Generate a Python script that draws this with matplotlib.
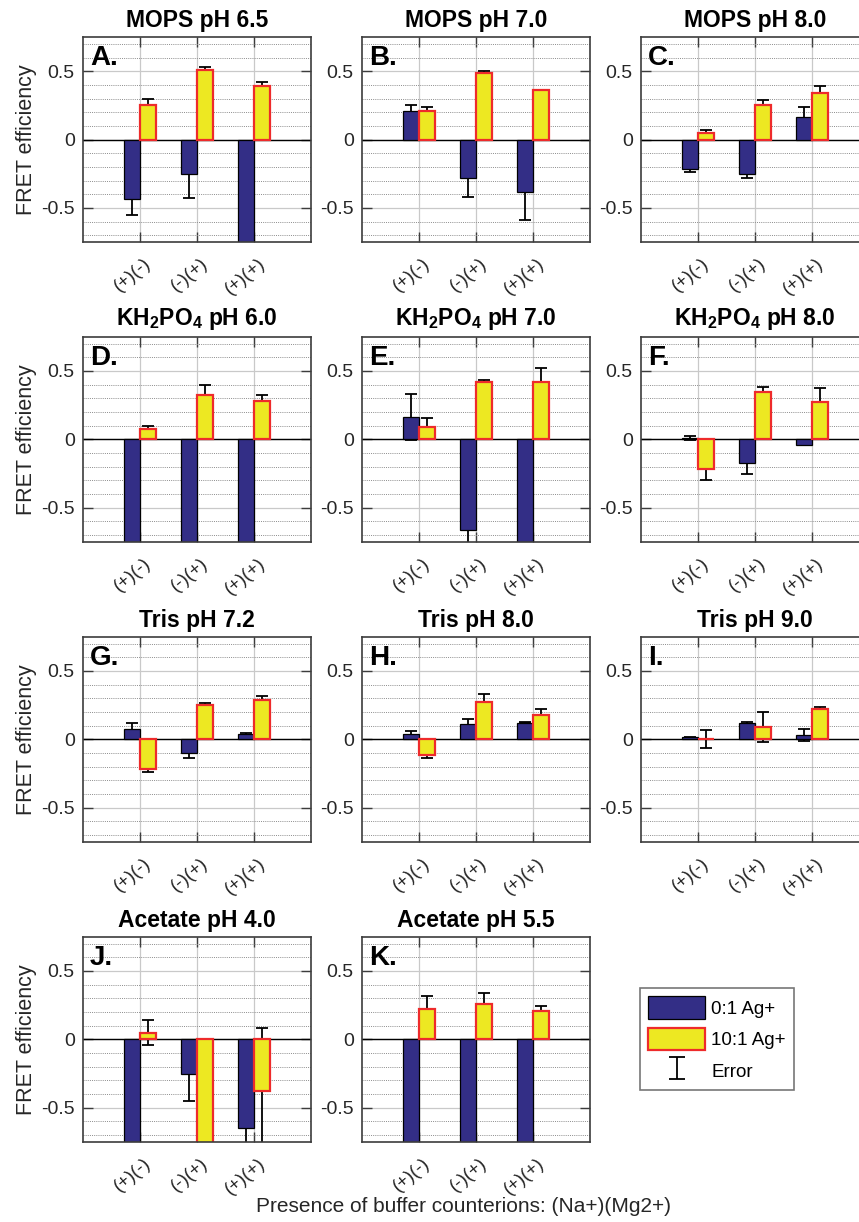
import matplotlib
matplotlib.use('Agg')
import matplotlib.pyplot as plt
import matplotlib.transforms as mtransforms
from matplotlib.patches import Patch
from matplotlib.lines import Line2D
from matplotlib.path import Path
import numpy as np

plt.rcParams['font.family'] = ['Liberation Sans', 'DejaVu Sans']
plt.rcParams['mathtext.fontset'] = 'custom'
plt.rcParams['mathtext.rm'] = 'Liberation Sans'
plt.rcParams['mathtext.bf'] = 'Liberation Sans:bold'
plt.rcParams['mathtext.it'] = 'Liberation Sans:italic'

# ---------------- data ----------------
categories = ['(+)(-)', '(-)(+)', '(+)(+)']
ytick_vals = [-0.5, 0.0, 0.5]
ytick_labels = ['-0.5', '0', '0.5']

titles = ['MOPS pH 6.5', 'MOPS pH 7.0', 'MOPS pH 8.0',
          r'KH$_\mathbf{2}$PO$_\mathbf{4}$ pH 6.0',
          r'KH$_\mathbf{2}$PO$_\mathbf{4}$ pH 7.0',
          r'KH$_\mathbf{2}$PO$_\mathbf{4}$ pH 8.0',
          'Tris pH 7.2', 'Tris pH 8.0', 'Tris pH 9.0',
          'Acetate pH 4.0', 'Acetate pH 5.5']
letters = ['A.', 'B.', 'C.', 'D.', 'E.', 'F.', 'G.', 'H.', 'I.', 'J.', 'K.']

# 0:1 Ag+ (blue) values and errors, per panel
ag0_vals = [
    [-0.433, -0.250, -1.000],
    [0.212, -0.280, -0.385],
    [-0.214, -0.255, 0.163],
    [-1.000, -1.000, -1.000],
    [0.165, -0.667, -1.000],
    [0.010, -0.175, -0.041],
    [0.075, -0.102, 0.039],
    [0.039, 0.112, 0.122],
    [0.015, 0.117, 0.032],
    [-1.000, -0.255, -0.650],
    [-1.000, -1.000, -1.000],
]
ag0_errs = [
    [0.122, 0.180, 0.0],
    [0.041, 0.140, 0.205],
    [0.025, 0.027, 0.073],
    [0.0, 0.0, 0.0],
    [0.168, 0.150, 0.0],
    [0.014, 0.083, 0.004],
    [0.042, 0.039, 0.005],
    [0.019, 0.036, 0.007],
    [0.003, 0.007, 0.043],
    [0.0, 0.198, 0.200],
    [0.0, 0.0, 0.0],
]
# 10:1 Ag+ (yellow) values and errors, per panel
ag10_vals = [
    [0.253, 0.508, 0.390],
    [0.207, 0.490, 0.365],
    [0.049, 0.253, 0.343],
    [0.071, 0.324, 0.277],
    [0.092, 0.421, 0.421],
    [-0.221, 0.345, 0.275],
    [-0.221, 0.248, 0.285],
    [-0.119, 0.275, 0.175],
    [0.000, 0.088, 0.221],
    [0.049, -1.000, -0.382],
    [0.219, 0.260, 0.207],
]
ag10_errs = [
    [0.047, 0.019, 0.030],
    [0.031, 0.013, 0.0],
    [0.017, 0.039, 0.049],
    [0.024, 0.073, 0.044],
    [0.066, 0.012, 0.102],
    [0.076, 0.039, 0.100],
    [0.022, 0.015, 0.029],
    [0.020, 0.056, 0.044],
    [0.065, 0.109, 0.012],
    [0.090, 0.0, 0.467],
    [0.095, 0.080, 0.034],
]
series_labels = ['0:1 Ag+', '10:1 Ag+', 'Error']
xlabel_text = 'Presence of buffer counterions: (Na+)(Mg2+)'

# ---------------- style ----------------
BLUE = '#332e86'
YELLOW = '#ede822'
RED = '#ee2b2b'
SPINE = '#3c3c3c'
TXT = '#262626'

W, H = 859, 1222
fig = plt.figure(figsize=(W / 100, H / 100), dpi=100)

col_left = [83, 362, 641]
row_top = [37, 336.7, 636.7, 936.7]
ax_w, ax_h = 228, 205
bw = 0.28

label_shift = mtransforms.ScaledTranslation(9 / 100, 0, fig.dpi_scale_trans)

for i in range(11):
    r, c = divmod(i, 3)
    left = col_left[c] / W
    bottom = 1 - (row_top[r] + ax_h) / H
    ax = fig.add_axes([left, bottom, ax_w / W, ax_h / H])
    x = np.arange(1, len(categories) + 1)

    ax.axhline(0, color='black', lw=1.0, zorder=1.2)
    ax.errorbar(x - bw / 2, ag0_vals[i], yerr=ag0_errs[i], fmt='none',
                ecolor='black', elinewidth=1.3, capsize=4.3, capthick=1.3, zorder=1.5)
    ax.errorbar(x + bw / 2, ag10_vals[i], yerr=ag10_errs[i], fmt='none',
                ecolor='black', elinewidth=1.3, capsize=4.3, capthick=1.3, zorder=1.5)
    ax.bar(x - bw / 2, ag0_vals[i], width=bw, color=BLUE, edgecolor='black',
           linewidth=0.9, zorder=2)
    ax.bar(x + bw / 2, ag10_vals[i], width=bw, color=YELLOW, edgecolor=RED,
           linewidth=1.6, zorder=2.1)

    ax.set_xlim(0, 4)
    ax.set_ylim(-0.75, 0.75)
    ax.set_axisbelow(True)
    ax.set_xticks(x)
    ax.set_xticklabels(categories, rotation=40, ha='right', va='center',
                       rotation_mode='anchor', fontsize=13.5, color=TXT)
    ax.set_yticks(ytick_vals)
    ax.set_yticklabels(ytick_labels, fontsize=14, color=TXT)
    ax.set_yticks([-0.7, -0.6, -0.4, -0.3, -0.2, -0.1, 0.1, 0.2, 0.3, 0.4, 0.6, 0.7],
                  minor=True)
    ax.tick_params(axis='both', which='major', direction='in', length=7.5,
                   width=1.0, color=SPINE, top=True, right=True)
    ax.tick_params(axis='y', which='major', pad=6)
    ax.tick_params(axis='x', which='major', pad=14)
    ax.tick_params(axis='both', which='minor', length=0)
    ax.grid(which='major', axis='both', color='#c9c9c9', lw=0.9, ls='-')
    ax.grid(which='minor', axis='y', color='#8c8c8c', lw=0.7, ls=(0, (1, 1.2)))
    for sp in ax.spines.values():
        sp.set_color(SPINE)
        sp.set_linewidth(1.2)

    for lbl in ax.get_xticklabels():
        lbl.set_transform(lbl.get_transform() + label_shift)

    ax.set_title(titles[i], fontsize=16.5, fontweight='bold', va='bottom', pad=3.5)
    ax.text(0.03, 0.96, letters[i], transform=ax.transAxes, fontsize=20,
            fontweight='bold', ha='left', va='top', zorder=5)
    if c == 0:
        ax.set_ylabel('FRET efficiency', fontsize=15.5, color=TXT, labelpad=3)

# legend
ipath = Path([(-0.33, -0.5), (0.33, -0.5), (0, -0.5), (0, 0.5), (-0.33, 0.5), (0.33, 0.5)],
             [Path.MOVETO, Path.LINETO, Path.MOVETO, Path.LINETO, Path.MOVETO, Path.LINETO])
handles = [Patch(facecolor=BLUE, edgecolor='black', linewidth=0.9),
           Patch(facecolor=YELLOW, edgecolor=RED, linewidth=1.6),
           Line2D([], [], color='black', marker=ipath, markersize=16.5, linestyle='None',
                  markerfacecolor='none', markeredgewidth=1.3)]
leg = fig.legend(handles, series_labels, loc='upper left',
                 bbox_to_anchor=(640 / W, 1 - 988 / H), bbox_transform=fig.transFigure,
                 frameon=True, fancybox=False, edgecolor='#555555', fontsize=13.5,
                 handlelength=3.0, handleheight=1.45, labelspacing=0.5, borderpad=0.45,
                 handletextpad=0.35, borderaxespad=0, numpoints=1)
leg.get_frame().set_linewidth(1.2)

fig.text(0.539, 1 - 1207 / H, xlabel_text, ha='center', va='center', fontsize=15,
         color=TXT)

fig.savefig('out.png', dpi=100)
